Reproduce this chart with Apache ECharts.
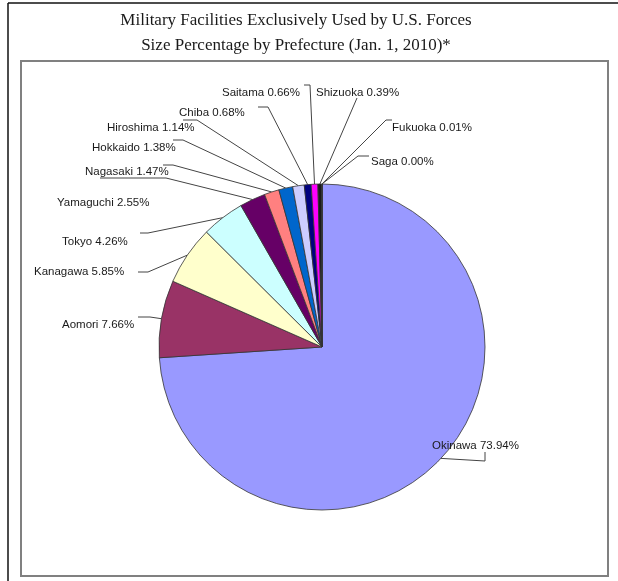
<!DOCTYPE html>
<html>
<head>
<meta charset="utf-8">
<script src="https://cdn.jsdelivr.net/npm/echarts@6/dist/echarts.min.js"></script>
<style>
  html, body { margin: 0; padding: 0; background: #fff; }
  #chart { width: 618px; height: 581px; }
</style>
</head>
<body>
<div id="chart"></div>
<script>
// prefectures, clockwise from 12 o'clock
const prefectures = ['Okinawa', 'Aomori', 'Kanagawa', 'Tokyo', 'Yamaguchi', 'Nagasaki', 'Hokkaido',
  'Hiroshima', 'Chiba', 'Saitama', 'Shizuoka', 'Fukuoka', 'Saga']
const shares = [73.94, 7.66, 5.85, 4.26, 2.55, 1.47, 1.38, 1.14, 0.68, 0.66, 0.39, 0.01, 0.00]

const colors = ['#9999ff', '#993366', '#ffffcc', '#ccffff', '#660066', '#ff8080', '#0066cc',
  '#ccccff', '#000080', '#ff00ff', '#1a1a1a', '#00ffff', '#800080']

// where Excel put each label (left x, middle y) and the bend of its leader line
const labelSpots = [
  { x: 432, y: 446, line: [[485, 461], [485, 452]] },
  { x: 62, y: 325, line: [[150, 317], [138, 317]] },
  { x: 34, y: 272, line: [[148, 272], [138, 272]] },
  { x: 62, y: 242, line: [[148, 233], [140, 233]] },
  { x: 57, y: 203, line: [[166, 178], [100, 178]] },
  { x: 85, y: 172, line: [[173, 165], [163, 165]] },
  { x: 92, y: 148, line: [[183, 140], [173, 140]] },
  { x: 107, y: 128, line: [[197, 120], [183, 120]] },
  { x: 179, y: 113, line: [[268, 107], [258, 107]] },
  { x: 222, y: 93, line: [[310, 85], [304, 85]] },
  { x: 316, y: 93, line: [[357, 98]] },
  { x: 392, y: 128, line: [[386, 120], [392, 120]] },
  { x: 371, y: 162, line: [[358, 156], [369, 156]] }
]

const chart = echarts.init(document.getElementById('chart'))

chart.setOption({
  animation: false,
  title: {
    text: 'Military Facilities Exclusively Used by U.S. Forces\nSize Percentage by Prefecture (Jan. 1, 2010)*',
    left: 291,
    top: 3,
    textAlign: 'center',
    textStyle: {
      fontFamily: 'Liberation Serif',
      fontSize: 17,
      fontWeight: 'normal',
      color: '#1a1a1a',
      lineHeight: 25
    }
  },
  graphic: [
    { type: 'line', shape: { x1: 8, y1: 3, x2: 618, y2: 3 }, style: { stroke: '#111', lineWidth: 1.5 } },
    { type: 'line', shape: { x1: 8, y1: 3, x2: 8, y2: 581 }, style: { stroke: '#111', lineWidth: 1.5 } },
    { type: 'rect', shape: { x: 21, y: 61, width: 587, height: 515 }, style: { fill: 'none', stroke: '#808080', lineWidth: 2 } }
  ],
  series: [{
    type: 'pie',
    center: [322, 347],
    radius: 163,
    startAngle: 90,
    clockwise: true,
    avoidLabelOverlap: false,
    data: prefectures.map((name, i) => ({
      name,
      value: shares[i],
      itemStyle: { color: colors[i] }
    })),
    itemStyle: { borderColor: '#333', borderWidth: 0.8 },
    emphasis: { disabled: true },
    label: {
      show: true,
      formatter: (p) => `${p.name} ${p.value.toFixed(2)}%`,
      fontFamily: 'Liberation Sans',
      fontSize: 11.5,
      color: '#1a1a1a'
    },
    labelLine: {
      show: true,
      length: 10,
      length2: 10,
      lineStyle: { color: '#444', width: 1 }
    },
    labelLayout: (params) => {
      const spot = labelSpots[params.dataIndex]
      const start = params.labelLinePoints ? params.labelLinePoints[0] : null
      const out = { x: spot.x, y: spot.y, align: 'left', verticalAlign: 'middle' }
      if (start) out.labelLinePoints = [start].concat(spot.line)
      return out
    }
  }]
})
</script>
</body>
</html>
